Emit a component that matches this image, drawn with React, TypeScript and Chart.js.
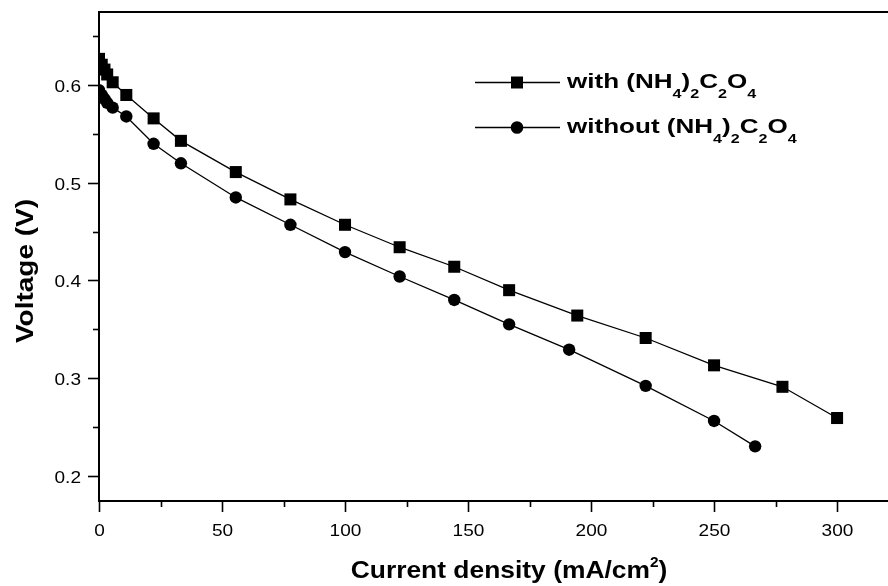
import React, { useEffect, useRef } from 'react';
import { Chart, registerables } from 'chart.js';

Chart.register(...registerables);

// ---- data ----
const withX = [0, 1.11, 2.22, 3.33, 5.56, 11.1, 22.2, 33.3, 55.6, 77.8, 100, 122.2, 144.4, 166.7, 194.4, 222.2, 250, 277.8, 300];
const withV = [0.627, 0.621, 0.616, 0.611, 0.603, 0.590, 0.566, 0.543, 0.511, 0.483, 0.457, 0.434, 0.414, 0.390, 0.364, 0.341, 0.313, 0.291, 0.259];
const withoutX = [0, 1.11, 2.22, 3.33, 5.56, 11.1, 22.2, 33.3, 55.6, 77.8, 100, 122.2, 144.4, 166.7, 191.1, 222.2, 250, 266.7];
const withoutV = [0.595, 0.590, 0.586, 0.582, 0.577, 0.568, 0.540, 0.520, 0.485, 0.457, 0.429, 0.404, 0.380, 0.355, 0.329, 0.292, 0.256, 0.230];

const xTickValues = [0, 25, 50, 75, 100, 125, 150, 175, 200, 225, 250, 275, 300];
const xTickLabels = ['0', '', '50', '', '100', '', '150', '', '200', '', '250', '', '300'];
const yTickValues = [0.2, 0.25, 0.3, 0.35, 0.4, 0.45, 0.5, 0.55, 0.6, 0.65];
const yTickLabels = ['0.2', '', '0.3', '', '0.4', '', '0.5', '', '0.6', ''];

const xTitle = [{ t: 'Current density (mA/cm' }, { t: '2', sup: true }, { t: ')' }];
const yTitle = 'Voltage (V)';
const legend1 = [{ t: 'with (NH' }, { t: '4', sub: true }, { t: ')' }, { t: '2', sub: true }, { t: 'C' }, { t: '2', sub: true }, { t: 'O' }, { t: '4', sub: true }];
const legend2 = [{ t: 'without (NH' }, { t: '4', sub: true }, { t: ')' }, { t: '2', sub: true }, { t: 'C' }, { t: '2', sub: true }, { t: 'O' }, { t: '4', sub: true }];

const FONT = '"Liberation Sans", Arial, sans-serif';

type Run = { t: string; sub?: boolean; sup?: boolean };

function runsWidth(ctx: CanvasRenderingContext2D, runs: Run[], size: number, subSize: number, bold: boolean, sx: number) {
  let w = 0;
  for (const r of runs) {
    const s = r.sub || r.sup ? subSize : size;
    ctx.font = `${bold ? 'bold ' : ''}${s}px ${FONT}`;
    w += ctx.measureText(r.t).width * sx;
  }
  return w;
}

function drawRuns(ctx: CanvasRenderingContext2D, runs: Run[], x: number, y: number, size: number, subSize: number, bold: boolean, sx: number, subDy: number, supDy: number) {
  let cx = x;
  for (const r of runs) {
    const s = r.sub || r.sup ? subSize : size;
    ctx.font = `${bold ? 'bold ' : ''}${s}px ${FONT}`;
    const w = ctx.measureText(r.t).width;
    const dy = r.sub ? subDy : r.sup ? supDy : 0;
    ctx.save();
    ctx.translate(cx, y + dy);
    ctx.scale(sx, 1);
    ctx.textAlign = 'left';
    ctx.textBaseline = 'alphabetic';
    ctx.fillText(r.t, 0, 0);
    ctx.restore();
    cx += w * sx;
  }
}

const axesPlugin = {
  id: 'axesPlugin',
  afterDraw(chart: any) {
    const ctx: CanvasRenderingContext2D = chart.ctx;
    const xs = chart.scales.x;
    const ys = chart.scales.y;
    const a = chart.chartArea;
    ctx.save();
    ctx.fillStyle = '#000';
    ctx.strokeStyle = '#000';
    ctx.lineWidth = 2;
    ctx.beginPath();
    ctx.moveTo(a.left - 1, a.top);
    ctx.lineTo(a.right, a.top);
    ctx.moveTo(a.left, a.top);
    ctx.lineTo(a.left, a.bottom);
    ctx.moveTo(a.left - 1, a.bottom);
    ctx.lineTo(a.right, a.bottom);
    ctx.stroke();

    // x ticks
    ctx.lineWidth = 1.6;
    xTickValues.forEach((v, i) => {
      const px = Math.round(xs.getPixelForValue(v)) + 0.5;
      const major = xTickLabels[i] !== '';
      ctx.beginPath();
      ctx.moveTo(px, a.bottom);
      ctx.lineTo(px, a.bottom + (major ? 11 : 6));
      ctx.stroke();
      if (major) {
        ctx.font = `17px ${FONT}`;
        const w = ctx.measureText(xTickLabels[i]).width * 1.12;
        ctx.save();
        ctx.translate(px - w / 2, a.bottom + 35);
        ctx.scale(1.12, 1);
        ctx.fillText(xTickLabels[i], 0, 0);
        ctx.restore();
      }
    });
    // y ticks
    yTickValues.forEach((v, i) => {
      const py = Math.round(ys.getPixelForValue(v)) + 0.5;
      const major = yTickLabels[i] !== '';
      ctx.beginPath();
      ctx.moveTo(a.left, py);
      ctx.lineTo(a.left - (major ? 11 : 6), py);
      ctx.stroke();
      if (major) {
        ctx.font = `17px ${FONT}`;
        const w = ctx.measureText(yTickLabels[i]).width * 1.12;
        ctx.save();
        ctx.translate(a.left - 18 - w, py + 6);
        ctx.scale(1.12, 1);
        ctx.fillText(yTickLabels[i], 0, 0);
        ctx.restore();
      }
    });

    // x title
    const tw = runsWidth(ctx, xTitle, 24, 14, true, 1.1);
    drawRuns(ctx, xTitle, 509 - tw / 2, 578, 24, 14, true, 1.1, 0, -11);

    // y title (rotated, stretched along reading direction)
    ctx.save();
    ctx.translate(33, 271);
    ctx.rotate(-Math.PI / 2);
    ctx.font = `bold 23px ${FONT}`;
    const yw = ctx.measureText(yTitle).width;
    const ysx = 144 / yw;
    ctx.scale(ysx, 1);
    ctx.textAlign = 'center';
    ctx.textBaseline = 'alphabetic';
    ctx.fillText(yTitle, 0, 0);
    ctx.restore();

    // legend
    const rows = [
      { runs: legend1, y: 82, style: 'rect' },
      { runs: legend2, y: 127, style: 'circle' },
    ];
    rows.forEach((r) => {
      ctx.lineWidth = 1.3;
      ctx.beginPath();
      ctx.moveTo(475, r.y + 0.5);
      ctx.lineTo(560, r.y + 0.5);
      ctx.stroke();
      ctx.beginPath();
      if (r.style === 'rect') ctx.rect(511, r.y - 5.5, 12, 12);
      else ctx.arc(517, r.y + 0.5, 6.3, 0, Math.PI * 2);
      ctx.fill();
      drawRuns(ctx, r.runs, 567, r.y + 6, 21, 13, true, 1.24, 10, 0);
    });
    ctx.restore();
  },
};

export default function App() {
  const ref = useRef<HTMLCanvasElement>(null);
  useEffect(() => {
    if (!ref.current) return;
    const chart = new Chart(ref.current, {
      type: 'scatter',
      data: {
        datasets: [
          {
            label: 'with',
            data: withX.map((x, i) => ({ x, y: withV[i] })),
            showLine: true,
            borderColor: '#000',
            backgroundColor: '#000',
            borderWidth: 1.3,
            pointStyle: 'rect',
            pointRadius: 8.5,
            pointBorderWidth: 0,
            pointHoverRadius: 8.5,
          },
          {
            label: 'without',
            data: withoutX.map((x, i) => ({ x, y: withoutV[i] })),
            showLine: true,
            borderColor: '#000',
            backgroundColor: '#000',
            borderWidth: 1.3,
            pointStyle: 'circle',
            pointRadius: 6.2,
            pointBorderWidth: 0,
            pointHoverRadius: 6.2,
          },
        ],
      },
      options: {
        responsive: false,
        animation: false,
        devicePixelRatio: 1,
        events: [],
        layout: { autoPadding: false, padding: { left: 99, top: 12, right: 0, bottom: 85 } },
        scales: {
          x: { type: 'linear', min: 0, max: 320.7, display: false },
          y: { type: 'linear', min: 0.174, max: 0.675, display: false },
        },
        plugins: { legend: { display: false }, tooltip: { enabled: false } },
      },
      plugins: [axesPlugin],
    });
    return () => chart.destroy();
  }, []);
  return (
    <div style={{ position: 'fixed', left: 0, top: 0, width: 888, height: 586, background: '#fff' }}>
      <canvas ref={ref} width={888} height={586} style={{ display: 'block' }} />
    </div>
  );
}
